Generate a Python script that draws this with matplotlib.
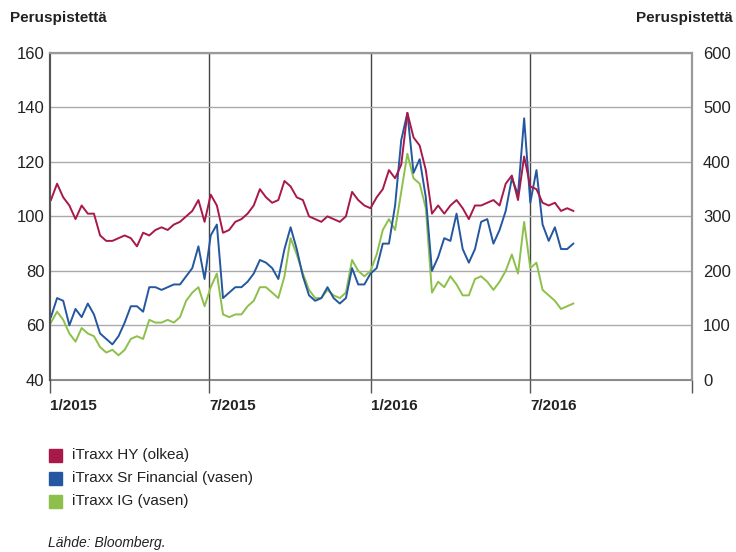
import pandas as pd
import matplotlib.pyplot as plt
from matplotlib.patches import Rectangle

plt.rcParams['font.family'] = ['Liberation Sans', 'DejaVu Sans']

# viikkodata 2.1.2015 - 19.8.2016
dates = pd.date_range('2015-01-02', periods=86, freq='7D')

# iTraxx HY (oikea akseli, bp)
hy = [330, 360, 335, 320, 295, 320, 305, 305, 265, 255,
      255, 260, 265, 260, 245, 270, 265, 275, 280, 275,
      285, 290, 300, 310, 330, 290, 340, 320, 270, 275,
      290, 295, 305, 320, 350, 335, 325, 330, 365, 355,
      335, 330, 300, 295, 290, 300, 295, 290, 300, 345,
      330, 320, 315, 335, 350, 385, 370, 395, 490, 445,
      430, 385, 305, 320, 305, 320, 330, 315, 295, 320,
      320, 325, 330, 320, 360, 375, 330, 410, 355, 350,
      325, 320, 325, 310, 315, 310]

# iTraxx Sr Financial (vasen akseli, bp)
fin = [63, 70, 69, 60, 66, 63, 68, 64, 57, 55,
       53, 56, 61, 67, 67, 65, 74, 74, 73, 74,
       75, 75, 78, 81, 89, 77, 93, 97, 70, 72,
       74, 74, 76, 79, 84, 83, 81, 77, 88, 96,
       88, 78, 71, 69, 70, 74, 70, 68, 70, 81,
       75, 75, 79, 81, 90, 90, 104, 128, 138, 116,
       121, 107, 80, 85, 92, 91, 101, 88, 83, 88,
       98, 99, 90, 95, 102, 114, 108, 136, 105, 117,
       97, 91, 96, 88, 88, 90]

# iTraxx IG (vasen akseli, bp)
ig = [61, 65, 62, 57, 54, 59, 57, 56, 52, 50,
      51, 49, 51, 55, 56, 55, 62, 61, 61, 62,
      61, 63, 69, 72, 74, 67, 74, 79, 64, 63,
      64, 64, 67, 69, 74, 74, 72, 70, 78, 92,
      86, 79, 73, 70, 70, 73, 71, 70, 72, 84,
      80, 78, 80, 86, 95, 99, 95, 109, 123, 114,
      112, 103, 72, 76, 74, 78, 75, 71, 71, 77,
      78, 76, 73, 76, 80, 86, 79, 98, 81, 83,
      73, 71, 69, 66, 67, 68]

labels = ['iTraxx HY (olkea)', 'iTraxx Sr Financial (vasen)', 'iTraxx IG (vasen)']
colors = ['#A8194A', '#2457A0', '#8DC04A']

fig = plt.figure(figsize=(7.36, 5.52), dpi=100)
ax = fig.add_axes([0.068, 0.312, 0.872, 0.592])
ax2 = ax.twinx()

ax.plot(dates, ig, color=colors[2], lw=1.4)
ax.plot(dates, fin, color=colors[1], lw=1.4)
ax2.plot(dates, hy, color=colors[0], lw=1.4)

ax.set_xlim(pd.Timestamp('2015-01-01'), pd.Timestamp('2017-01-01'))
ax.set_ylim(40, 160)
ax2.set_ylim(0, 600)
ax.set_yticks(range(40, 161, 20))
ax2.set_yticks(range(0, 601, 100))

ticks = pd.to_datetime(['2015-01-01', '2015-07-01', '2016-01-01', '2016-07-01', '2017-01-01'])
ax.set_xticks(ticks)
ax.set_xticklabels(['1/2015', '7/2015', '1/2016', '7/2016', ''], fontweight='bold', fontsize=11, ha='left')

ax.grid(axis='y', color='#AAAAAA', lw=1)
ax.axhline(40, color='#888888', lw=1.5, clip_on=False, zorder=0.5)
for t in ticks[1:4]:
    ax.axvline(t, color='#444444', lw=1, zorder=0.5)
ax.set_axisbelow(True)

for a in (ax, ax2):
    a.spines['bottom'].set_visible(False)
    a.spines['top'].set_color('#999999')
    a.spines['right'].set_color('#999999')
    a.spines['left'].set_color('#555555')
    a.spines['left'].set_linewidth(1.5)
    a.spines['top'].set_linewidth(1.5)
    a.spines['right'].set_linewidth(1.5)
ax.tick_params(axis='y', length=0, labelsize=12, pad=4, colors='#222222')
ax2.tick_params(axis='y', length=0, labelsize=12, pad=8, colors='#222222')
ax.tick_params(axis='x', length=9, width=1, color='#555555', pad=5, colors='#222222')

fig.text(0.014, 0.968, 'Peruspistettä', fontsize=11, fontweight='bold', va='center', color='#222222')
fig.text(0.996, 0.968, 'Peruspistettä', fontsize=11, fontweight='bold', va='center', ha='right', color='#222222')

for i, (lab, c) in enumerate(zip(labels, colors)):
    y = 1 - (455 + i * 23) / 552
    fig.patches.append(Rectangle((49 / 736, y - 6.5 / 552), 13 / 736, 13 / 552,
                                 transform=fig.transFigure, color=c))
    fig.text(72 / 736, y, lab, fontsize=11, va='center', color='#222222')

fig.text(48 / 736, 1 - 543 / 552, 'Lähde: Bloomberg.', fontsize=10, style='italic', va='center', color='#222222')

plt.savefig('out.png', dpi=100)
